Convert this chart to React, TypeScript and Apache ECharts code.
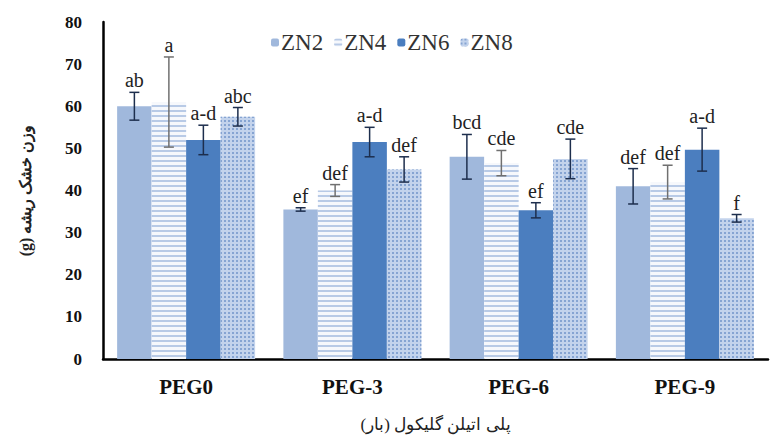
import React, { useEffect, useRef } from "react";
import * as echarts from "echarts";

const categories = ["PEG0", "PEG-3", "PEG-6", "PEG-9"];
const seriesNames = ["ZN2", "ZN4", "ZN6", "ZN8"];
const zn2 = [60, 35.5, 48, 41];
const zn4 = [61, 40, 46.5, 42];
const zn6 = [52, 51.5, 35.3, 49.7];
const zn8 = [57.5, 45, 47.5, 33.4];
const zn2Err = [3.3, 0.4, 5.3, 4.2];
const zn4Err = [10.7, 1.4, 3, 4];
const zn6Err = [3.5, 3.5, 1.8, 5.1];
const zn8Err = [2.2, 3, 4.7, 0.9];
const zn2Letters = ["ab", "ef", "bcd", "def"];
const zn4Letters = ["a", "def", "cde", "def"];
const zn6Letters = ["a-d", "a-d", "ef", "a-d"];
const zn8Letters = ["abc", "def", "cde", "f"];
const yTicks = { min: 0, max: 80, interval: 10 };
const yName = "وزن خشک ریشه (g)";
const xName = "پلی اتیلن گلیکول (بار)";

const SERIF = "Liberation Serif";

export default function App() {
  const ref = useRef<HTMLDivElement>(null);
  useEffect(() => {
    if (!ref.current) return;
    const chart = echarts.init(ref.current, null, { renderer: "svg" });
    const values = [zn2, zn4, zn6, zn8];
    const errs = [zn2Err, zn4Err, zn6Err, zn8Err];
    const letters = [zn2Letters, zn4Letters, zn6Letters, zn8Letters];
    const errData: number[][] = [];
    const errLetters: string[] = [];
    values.forEach((arr, s) => {
      arr.forEach((v, c) => {
        errData.push([c, v, errs[s][c], s]);
        errLetters.push(letters[s][c]);
      });
    });
    const gapRatio = 0.17;
    const styles = [
      { color: "#a0b8dc" },
      {
        color: "#f6f8fc",
        decal: {
          symbol: "rect",
          symbolSize: 1,
          color: "#b8cae6",
          dashArrayX: [1, 0],
          dashArrayY: [1.2, 2.6],
        },
      },
      { color: "#4b7ebf" },
      {
        color: "#c3d3ec",
        decal: {
          symbol: "rect",
          symbolSize: 1,
          color: "#86a4d2",
          dashArrayX: [2, 2],
          dashArrayY: [2, 2],
        },
      },
    ];
    const barSeries = values.map((arr, s) => ({
      name: seriesNames[s],
      type: "bar",
      data: arr,
      barGap: "0%",
      barCategoryGap: gapRatio * 100 + "%",
      itemStyle: styles[s],
    }));
    chart.setOption({
      animation: false,
      aria: { enabled: false },
      legend: {
        data: seriesNames,
        top: 26,
        left: 266,
        itemWidth: 8,
        itemHeight: 8,
        itemGap: 11,
        textStyle: { fontFamily: SERIF, fontSize: 23, color: "#333", padding: [0, 0, 0, -3] },
      },
      grid: { left: 103, right: 2, top: 22, bottom: 78 },
      xAxis: {
        type: "category",
        data: categories,
        axisLine: { lineStyle: { color: "#000", width: 2.5 } },
        axisTick: { show: false },
        axisLabel: {
          margin: 17,
          fontFamily: SERIF,
          fontSize: 21,
          fontWeight: "bold",
          color: "#111",
        },
        name: xName,
        nameLocation: "middle",
        nameGap: 57,
        nameTextStyle: { fontFamily: SERIF, fontSize: 17, color: "#222" },
      },
      yAxis: {
        type: "value",
        min: yTicks.min,
        max: yTicks.max,
        interval: yTicks.interval,
        axisLine: { show: true, lineStyle: { color: "#000", width: 2.5 } },
        axisTick: { show: false },
        splitLine: { show: false },
        axisLabel: {
          margin: 21,
          fontFamily: SERIF,
          fontSize: 17,
          fontWeight: "bold",
          color: "#111",
        },
        name: "\u202B" + yName + "\u202C",
        nameLocation: "middle",
        nameGap: 70,
        nameRotate: 90,
        nameTextStyle: {
          fontFamily: SERIF,
          fontSize: 16,
          fontWeight: "bold",
          color: "#222",
        },
      },
      series: [
        ...barSeries,
        {
          type: "custom",
          name: "errors",
          data: errData,
          z: 10,
          renderItem: (params: any, api: any) => {
            const c = api.value(0);
            const v = api.value(1);
            const e = api.value(2);
            const s = api.value(3);
            const band = api.size([1, 0])[0];
            const barW = (band * (1 - gapRatio)) / 4;
            const x = api.coord([c, 0])[0] + (s - 1.5) * barW;
            const yTop = api.coord([c, v + e])[1];
            const yBot = api.coord([c, v - e])[1];
            const col = s === 1 ? "#707070" : "#1d2e4d";
            const cap = 5;
            const ls = { stroke: col, lineWidth: 1.5 };
            return {
              type: "group",
              children: [
                { type: "line", shape: { x1: x, y1: yTop, x2: x, y2: yBot }, style: ls },
                { type: "line", shape: { x1: x - cap, y1: yTop, x2: x + cap, y2: yTop }, style: ls },
                { type: "line", shape: { x1: x - cap, y1: yBot, x2: x + cap, y2: yBot }, style: ls },
                {
                  type: "text",
                  x: x,
                  y: yTop - 2,
                  style: {
                    text: errLetters[params.dataIndex],
                    fontFamily: SERIF,
                    fontSize: 20,
                    fill: "#222",
                    align: "center",
                    verticalAlign: "bottom",
                  },
                },
              ],
            };
          },
        },
      ],
    });
    return () => chart.dispose();
  }, []);
  return (
    <div
      ref={ref}
      style={{ position: "fixed", left: 0, top: 0, width: 770, height: 438, background: "#fff" }}
    />
  );
}
